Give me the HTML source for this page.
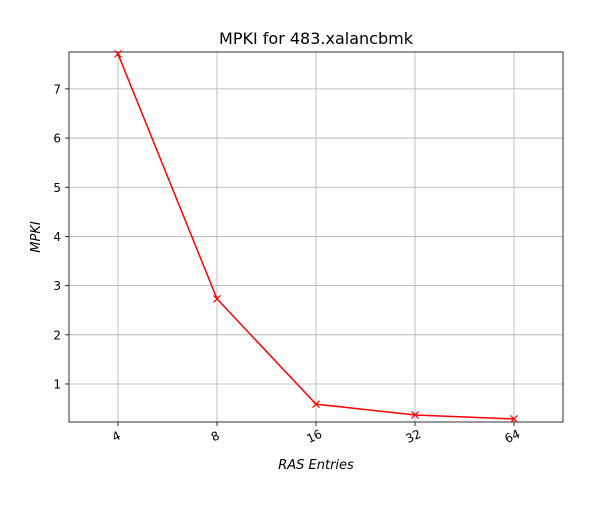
<!DOCTYPE html>
<html><head><meta charset="utf-8"><style>
body{margin:0;background:#fff;}
svg text{font-family:"DejaVu Sans","Liberation Sans",sans-serif;fill:#000;}
</style></head><body>
<svg id="chart" width="597" height="502">
<rect width="597" height="502" fill="#fff"/>
<text x="316" y="44" font-size="16" text-anchor="middle">MPKI for 483.xalancbmk</text>
<g id="grid"></g>
<g id="axes"></g>
<g id="series"></g>
<text x="316" y="469" font-size="13" font-style="italic" text-anchor="middle">RAS Entries</text>
<text transform="translate(40,237) rotate(-90)" font-size="13" font-style="italic" text-anchor="middle">MPKI</text>
</svg>
<script>
const categories = ["4","8","16","32","64"];
const mpki = [7.71, 2.73, 0.59, 0.37, 0.29];
const yTicks = [1,2,3,4,5,6,7];
const L=69,R=563,T=52,B=422;
const yMin=0.227,yMax=7.75;
function xs(i){return 118+i*99;}
function ys(v){return B-(v-yMin)/(yMax-yMin)*(B-T);}
const NS="http://www.w3.org/2000/svg";
function mk(tag,attrs,parent){const e=document.createElementNS(NS,tag);for(const k in attrs)e.setAttribute(k,attrs[k]);parent.appendChild(e);return e;}
const grid=document.getElementById('grid'),axes=document.getElementById('axes'),series=document.getElementById('series');
categories.forEach((c,i)=>{
  const x=xs(i);
  const g=mk('line',{x1:x,x2:x,y1:T,y2:B,stroke:'#b0b0b0','stroke-width':0.8},grid);
  
  
  const t=mk('line',{x1:x,x2:x,y1:B,y2:B+4,stroke:'#000','stroke-width':0.8},axes);
  
  
  const lb=mk('text',{'font-size':12,'text-anchor':'middle',transform:`translate(${x},${B+18}) rotate(-25)`},axes);
  lb.textContent=c;
  
  
});
yTicks.forEach(v=>{
  const y=ys(v);
  const g=mk('line',{x1:L,x2:R,y1:y,y2:y,stroke:'#b0b0b0','stroke-width':0.8},grid);
  
  
  const t=mk('line',{x1:L-4,x2:L,y1:y,y2:y,stroke:'#000','stroke-width':0.8},axes);
  
  
  const lb=mk('text',{x:L-8,y:y+4.5,'font-size':12,'text-anchor':'end'},axes);
  lb.textContent=v;
  
  
});
const frame=mk('rect',{x:L,y:T,width:R-L,height:B-T,fill:'none',stroke:'#000','stroke-width':0.8},axes);


const pts=mpki.map((v,i)=>xs(i)+','+ys(v)).join(' ');
const line=mk('polyline',{points:pts,fill:'none',stroke:'#ff0000','stroke-width':1.5},series);


mpki.forEach((v,i)=>{
  const x=xs(i),y=ys(v),s=3.5;
  const m=mk('path',{d:`M${x-s},${y-s}L${x+s},${y+s}M${x-s},${y+s}L${x+s},${y-s}`,stroke:'#ff0000','stroke-width':1.2,fill:'none'},series);
  
  
});
</script>
</body></html>
